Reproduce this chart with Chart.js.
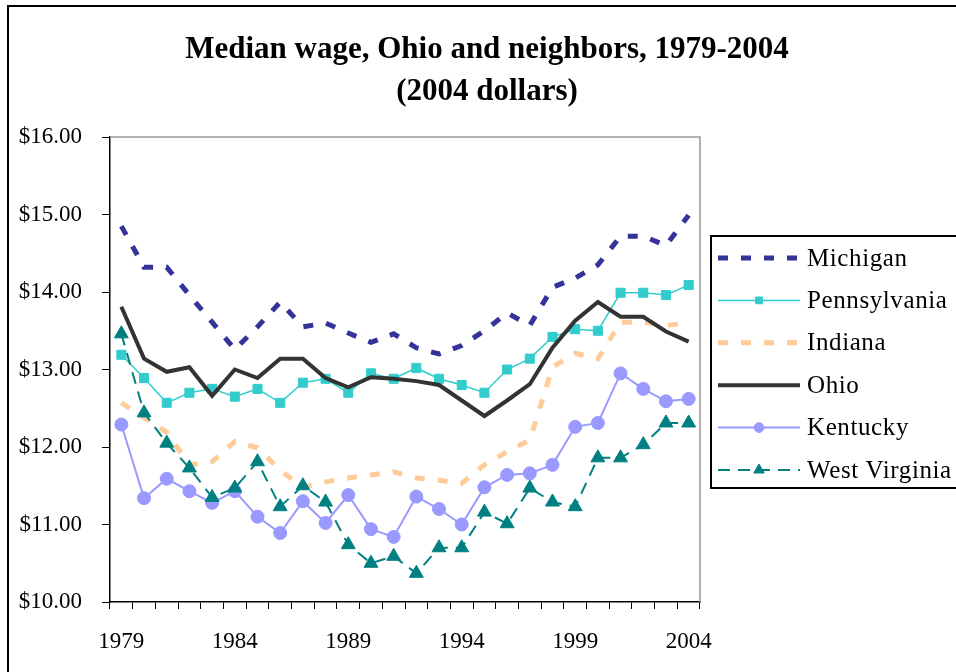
<!DOCTYPE html>
<html>
<head>
<meta charset="utf-8">
<title>Median wage, Ohio and neighbors</title>
<script src="https://cdn.jsdelivr.net/npm/chart.js@4.4.0/dist/chart.umd.min.js"></script>
<style>
    html, body { margin: 0; padding: 0; background: #fff; }
    #wrap { width: 956px; height: 672px; position: relative; }
</style>
</head>
<body>
<div id="wrap"><canvas id="wageChart" width="956" height="672"></canvas></div>
<script>
// Années et étiquettes de l'axe X
const years = ['1979', '1980', '1981', '1982', '1983', '1984', '1985', '1986', '1987', '1988',
               '1989', '1990', '1991', '1992', '1993', '1994', '1995', '1996', '1997', '1998',
               '1999', '2000', '2001', '2002', '2003', '2004'];
const yearTicks = ['1979', '1984', '1989', '1994', '1999', '2004'];

// Salaire médian (dollars 2004)
const michigan = [14.85, 14.32, 14.32, 13.96, 13.61, 13.26, 13.55, 13.87, 13.55, 13.60,
                  13.47, 13.35, 13.46, 13.28, 13.20, 13.31, 13.50, 13.73, 13.57, 14.06,
                  14.18, 14.35, 14.72, 14.72, 14.60, 14.99];
const pennsylvania = [13.19, 12.89, 12.57, 12.70, 12.75, 12.65, 12.75, 12.57, 12.83, 12.88,
                      12.70, 12.95, 12.88, 13.02, 12.88, 12.80, 12.70, 13.00, 13.14, 13.42,
                      13.52, 13.50, 13.99, 13.99, 13.96, 14.09];
const indiana = [12.57, 12.38, 12.19, 11.77, 11.81, 12.07, 11.99, 11.70, 11.48, 11.55,
                 11.60, 11.64, 11.68, 11.60, 11.57, 11.53, 11.77, 11.94, 12.09, 13.03,
                 13.21, 13.14, 13.61, 13.61, 13.57, 13.60];
const ohio = [13.81, 13.14, 12.97, 13.03, 12.66, 13.00, 12.89, 13.14, 13.14, 12.89,
              12.77, 12.90, 12.88, 12.85, 12.80, 12.60, 12.40, 12.60, 12.81, 13.28,
              13.63, 13.87, 13.68, 13.68, 13.49, 13.36];
const kentucky = [12.29, 11.34, 11.59, 11.43, 11.28, 11.43, 11.10, 10.89, 11.30, 11.02,
                  11.38, 10.94, 10.84, 11.36, 11.20, 11.00, 11.48, 11.64, 11.66, 11.77,
                  12.26, 12.31, 12.95, 12.75, 12.59, 12.62];
const westVirginia = [13.46, 12.44, 12.05, 11.73, 11.35, 11.47, 11.81, 11.23, 11.50, 11.29,
                      10.74, 10.50, 10.59, 10.37, 10.70, 10.70, 11.16, 11.01, 11.47, 11.29,
                      11.23, 11.86, 11.86, 12.03, 12.31, 12.31];

const serif = "'Liberation Serif', 'Times New Roman', serif";

// Cadre, titre et légende dessinés à la main (style Excel)
const excelFrame = {
    id: 'excelFrame',
    beforeDraw(chart) {
        const c = chart.ctx;
        c.save();
        c.fillStyle = '#fff';
        c.fillRect(0, 0, chart.width, chart.height);
        c.strokeStyle = '#000';
        c.lineWidth = 2;
        c.beginPath();
        c.moveTo(8, chart.height);
        c.lineTo(8, 6);
        c.lineTo(chart.width, 6);
        c.stroke();
        c.restore();
    },
    beforeDatasetsDraw(chart) {
        const a = chart.chartArea;
        const c = chart.ctx;
        c.save();
        c.strokeStyle = '#999';
        c.lineWidth = 1.5;
        c.beginPath();
        c.moveTo(a.left, a.top);
        c.lineTo(a.right, a.top);
        c.lineTo(a.right, a.bottom);
        c.stroke();
        c.restore();
    },
    afterDraw(chart) {
        const c = chart.ctx;
        c.save();
        // titre
        c.fillStyle = '#000';
        c.textAlign = 'center';
        c.textBaseline = 'middle';
        c.font = 'bold 31px ' + serif;
        c.fillText('Median wage, Ohio and neighbors, 1979-2004', 487, 50);
        c.fillText('(2004 dollars)', 487, 92);

        // légende
        c.strokeStyle = '#000';
        c.lineWidth = 2;
        c.strokeRect(711, 236, 250, 252);
        c.font = '25px ' + serif;
        c.textAlign = 'left';
        c.letterSpacing = '0.6px';
        chart.data.datasets.forEach(function(ds, i) {
            const y = 258 + i * 42.4;
            c.save();
            c.strokeStyle = ds.borderColor;
            c.lineWidth = ds.borderWidth;
            c.setLineDash(ds.borderDash || []);
            c.beginPath();
            c.moveTo(718, y);
            c.lineTo(800, y);
            c.stroke();
            c.restore();
            if (ds.pointRadius > 0) {
                c.save();
                c.fillStyle = ds.pointBackgroundColor;
                c.strokeStyle = ds.pointBorderColor;
                c.lineWidth = 1;
                Chart.helpers.drawPoint(c, {
                    pointStyle: ds.pointStyle,
                    radius: ds.pointRadius * 0.75,
                    rotation: 0,
                    borderWidth: 1
                }, 759, y);
                c.restore();
            }
            c.fillStyle = '#000';
            c.fillText(ds.label, 807, y + 1);
        });
        c.restore();
    }
};

function serie(label, data, color, width, dash, style, radius, order) {
    return {
        label: label,
        data: data,
        borderColor: color,
        backgroundColor: color,
        borderWidth: width,
        borderDash: dash,
        pointStyle: style,
        pointRadius: radius,
        pointBackgroundColor: color,
        pointBorderColor: color,
        pointBorderWidth: 1,
        tension: 0,
        fill: false,
        order: order
    };
}

new Chart(document.getElementById('wageChart'), {
    type: 'line',
    data: {
        labels: years,
        datasets: [
            serie('Michigan', michigan, '#333399', 5, [10, 13], 'circle', 0, 6),
            serie('Pennsylvania', pennsylvania, '#33CCCC', 1.5, [], 'rect', 6.4, 5),
            serie('Indiana', indiana, '#FFCC99', 5, [10, 13], 'circle', 0, 4),
            serie('Ohio', ohio, '#333333', 4, [], 'circle', 0, 3),
            serie('Kentucky', kentucky, '#9999FF', 2, [], 'circle', 6.5, 2),
            serie('West Virginia', westVirginia, '#008080', 2, [12, 8], 'triangle', 8, 1)
        ]
    },
    options: {
        responsive: false,
        animation: false,
        layout: {
            padding: { top: 137, right: 256, left: 0, bottom: 0 }
        },
        plugins: {
            legend: { display: false },
            title: { display: false },
            tooltip: { enabled: false }
        },
        scales: {
            x: {
                offset: true,
                grid: {
                    offset: true,
                    drawOnChartArea: false,
                    color: '#000',
                    tickLength: 7
                },
                border: { color: '#000', width: 1.5 },
                ticks: {
                    autoSkip: false,
                    maxRotation: 0,
                    padding: 19,
                    color: '#000',
                    font: { family: serif, size: 23 },
                    callback: function(value, index) {
                        return yearTicks.includes(years[index]) ? years[index] : '';
                    }
                },
                afterFit: function(scale) { scale.height = 70; }
            },
            y: {
                min: 10,
                max: 16,
                grid: {
                    drawOnChartArea: false,
                    color: '#000',
                    tickLength: 8
                },
                border: { color: '#000', width: 1.5 },
                ticks: {
                    stepSize: 1,
                    padding: 20,
                    color: '#000',
                    font: { family: serif, size: 23 },
                    callback: function(value) {
                        return '$' + value.toFixed(2);
                    }
                },
                afterFit: function(scale) { scale.width = 110; }
            }
        }
    },
    plugins: [excelFrame]
});
</script>
</body>
</html>
